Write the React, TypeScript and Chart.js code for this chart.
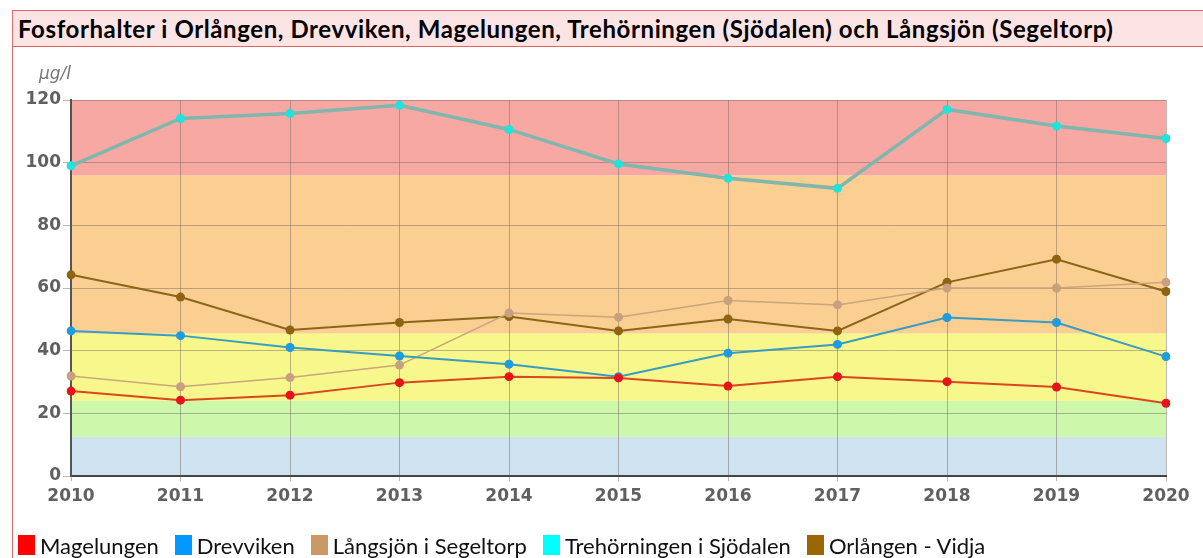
import React, { useEffect, useRef } from "react";
import { Chart, registerables } from "chart.js";

Chart.register(...registerables);

const titleText =
  "Fosforhalter i Orlången, Drevviken, Magelungen, Trehörningen (Sjödalen) och Långsjön (Segeltorp)";
const unitLabel = "µg/l";

const years = ["2010", "2011", "2012", "2013", "2014", "2015", "2016", "2017", "2018", "2019", "2020"];

const seriesNames = [
  "Magelungen",
  "Drevviken",
  "Långsjön i Segeltorp",
  "Trehörningen i Sjödalen",
  "Orlången - Vidja",
];

const magelungen = [27.1, 24.2, 25.8, 29.8, 31.7, 31.3, 28.7, 31.7, 30.1, 28.4, 23.2];
const drevviken = [46.3, 44.8, 41.0, 38.3, 35.7, 31.7, 39.2, 42.0, 50.6, 49.0, 38.1];
const langsjon = [31.9, 28.5, 31.4, 35.4, 52.0, 50.7, 56.0, 54.6, 60.0, 60.0, 61.8];
const trehorningen = [99.0, 114.1, 115.7, 118.3, 110.6, 99.6, 95.0, 91.8, 117.0, 111.7, 107.7];
const orlangen = [64.2, 57.1, 46.6, 49.0, 50.9, 46.3, 50.1, 46.3, 61.8, 69.2, 58.9];

const legendColors = ["#ff0000", "#0099ff", "#cc9966", "#00ffff", "#996600"];
const lineColors = ["#d9471c", "#3a9cc0", "#c9a67c", "#7fb6ae", "#8a6618"];
const pointColors = ["#e8121a", "#1f9be0", "#c9a07f", "#22e2dc", "#8f6410"];
const lineWidths = [2, 2, 1.5, 3.5, 2];

const classLimits = [0, 12.5, 24, 45.5, 96, 120];
const classColors = ["#cfe2f0", "#cdf7ab", "#f7f78b", "#fbce92", "#f8a8a3"];

const yMin = 0;
const yMax = 120;
const yStep = 20;

const bandsPlugin = {
  id: "bands",
  beforeDraw(chart: any) {
    const { ctx, chartArea, scales } = chart;
    const y = scales.y;
    ctx.save();
    for (let i = 0; i < classColors.length; i++) {
      const top = y.getPixelForValue(classLimits[i + 1]);
      const bottom = y.getPixelForValue(classLimits[i]);
      ctx.fillStyle = classColors[i];
      ctx.fillRect(chartArea.left, top, chartArea.right - chartArea.left, bottom - top);
    }
    ctx.restore();
  },
};

const unitPlugin = {
  id: "unitLabel",
  afterDraw(chart: any) {
    const { ctx, chartArea } = chart;
    ctx.save();
    ctx.font = "italic 17px 'DejaVu Sans'";
    ctx.fillStyle = "#777";
    ctx.textAlign = "center";
    ctx.textBaseline = "middle";
    ctx.fillText(unitLabel, chartArea.left - 16, chartArea.top - 25);
    ctx.restore();
  },
};

export default function App() {
  const canvasRef = useRef<HTMLCanvasElement | null>(null);

  useEffect(() => {
    const canvas = canvasRef.current;
    if (!canvas) return;
    const seriesData = [magelungen, drevviken, langsjon, trehorningen, orlangen];
    const tickFont = { family: "'DejaVu Sans'", size: 17, weight: "bold" as const };
    const chart = new Chart(canvas, {
      type: "line",
      data: {
        labels: years,
        datasets: seriesData.map((d, i) => ({
          label: seriesNames[i],
          data: d,
          borderColor: lineColors[i],
          backgroundColor: pointColors[i],
          pointBackgroundColor: pointColors[i],
          pointBorderColor: pointColors[i],
          pointBorderWidth: 0,
          pointRadius: 4.5,
          borderWidth: lineWidths[i],
          tension: 0,
          fill: false,
        })),
      },
      options: {
        animation: false,
        responsive: false,
        devicePixelRatio: 1,
        layout: { padding: { top: 52, right: 37, left: 0, bottom: 46 } },
        plugins: {
          tooltip: { enabled: false },
          title: { display: false },
          legend: { display: false },
        },
        scales: {
          x: {
            type: "category",
            offset: false,
            grid: { color: "rgba(110,100,95,0.45)", lineWidth: 1, tickLength: 5 },
            border: { color: "#444", width: 2 },
            ticks: { font: tickFont, color: "#606060", padding: 5, maxRotation: 0, autoSkip: false },
            afterFit: (s: any) => {
              s.height = 36;
            },
          },
          y: {
            min: yMin,
            max: yMax,
            grid: { color: "rgba(110,100,95,0.45)", lineWidth: 1, tickLength: 8 },
            border: { color: "#555", width: 2 },
            ticks: { stepSize: yStep, font: tickFont, color: "#606060", padding: 2 },
            afterFit: (s: any) => {
              s.width = 58;
            },
          },
        },
      },
      plugins: [bandsPlugin, unitPlugin],
    });
    return () => chart.destroy();
  }, []);

  return (
    <div
      style={{
        position: "fixed",
        left: 12,
        top: 10,
        width: 1191,
        height: 548,
        borderLeft: "1px solid #e07070",
        background: "#fff",
      }}
    >
      <div
        style={{
          position: "absolute",
          left: 0,
          top: 0,
          width: 1191,
          height: 37,
          borderTop: "1px solid #e06666",
          borderBottom: "1px solid #e06666",
          background: "#fce4e5",
          fontFamily: "Lato",
          fontWeight: 700,
          fontSize: 24,
          letterSpacing: 0.6,
          lineHeight: "35px",
          paddingLeft: 5,
          boxSizing: "border-box",
          color: "#000",
          whiteSpace: "nowrap",
        }}
      >
        {titleText}
      </div>
      <div style={{ position: "absolute", left: 0, top: 38, width: 1190, height: 510 }}>
        <canvas ref={canvasRef} width={1190} height={510} style={{ width: 1190, height: 510 }} />
      </div>
      <div
        style={{
          position: "absolute",
          left: 5,
          top: 523,
          height: 24,
          display: "flex",
          alignItems: "center",
          fontFamily: "Lato",
          fontSize: 22,
          color: "#111",
          whiteSpace: "nowrap",
        }}
      >
        {seriesNames.map((name, i) => (
          <div key={name} style={{ display: "flex", alignItems: "center", marginRight: 16 }}>
            <span
              style={{
                display: "inline-block",
                width: 17,
                height: 20,
                background: legendColors[i],
                marginRight: 5,
              }}
            />
            <span>{name}</span>
          </div>
        ))}
      </div>
    </div>
  );
}
